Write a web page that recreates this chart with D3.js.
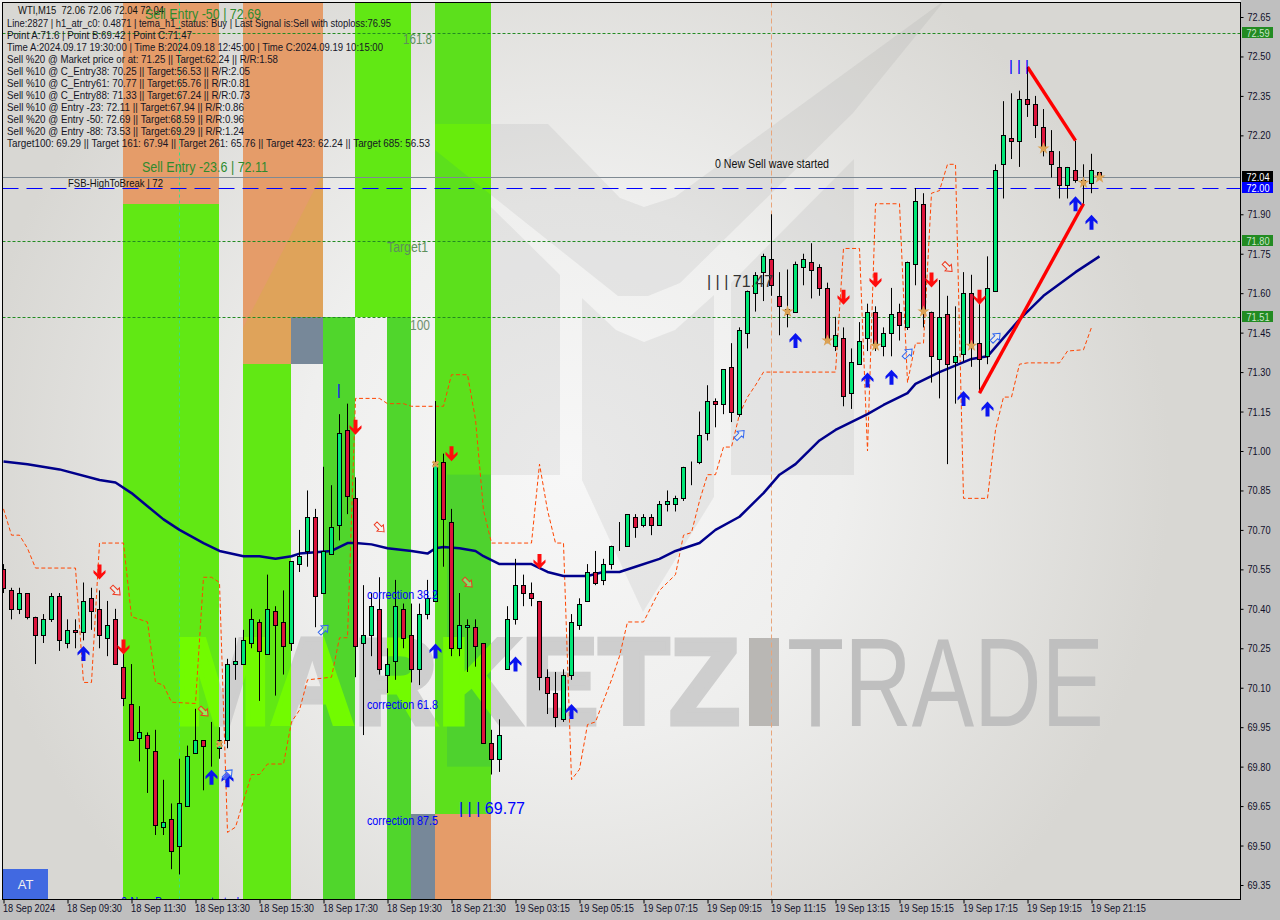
<!DOCTYPE html>
<html><head><meta charset="utf-8">
<style>html,body{margin:0;padding:0;background:#c0c0c0}svg{display:block}text{font-family:"Liberation Sans",Arial,sans-serif}</style>
<script src="https://cdnjs.cloudflare.com/ajax/libs/d3/7.8.5/d3.min.js"></script>
</head><body><div id="c"></div>
<script>
const opens=[70.55,70.47,70.40,70.46,70.37,70.30,70.36,70.45,70.27,70.32,70.31,70.44,70.40,70.29,70.36,70.18,70.04,69.91,69.92,69.86,69.57,69.60,69.50,69.65,69.85,69.90,69.89,69.87,69.90,70.19,70.19,70.27,70.35,70.23,70.39,70.35,70.27,70.57,70.62,70.75,70.46,70.61,70.72,71.08,70.82,70.27,70.30,70.40,70.15,70.20,70.40,70.30,70.17,70.38,70.43,70.96,70.73,70.25,70.33,70.33,70.27,69.89,69.83,70.17,70.36,70.49,70.46,70.43,70.14,70.08,69.98,70.15,70.34,70.43,70.54,70.51,70.57,70.64,70.64,70.75,70.72,70.75,70.72,70.80,70.80,70.82,70.94,70.96,71.07,71.19,71.18,71.32,71.14,71.45,71.60,71.68,71.73,71.59,71.54,71.53,71.70,71.72,71.70,71.62,71.40,71.43,71.22,71.33,71.43,71.53,71.40,71.45,71.53,71.47,71.71,71.94,71.53,71.35,71.52,71.34,71.37,71.60,71.41,71.36,71.61,72.09,72.19,72.18,72.34,72.32,72.23,72.14,72.08,72.01,72.07,72.03,72.02,72.06];
const highs=[70.57,70.48,70.48,70.46,70.37,70.38,70.46,70.46,70.36,70.36,70.50,70.48,70.47,70.43,70.40,70.23,70.19,70.03,69.93,69.94,69.75,69.66,69.83,69.88,70.02,69.90,69.97,69.95,70.21,70.29,70.32,70.40,70.36,70.53,70.41,70.47,70.58,70.70,70.85,70.78,70.94,70.87,71.14,71.18,70.90,70.49,70.46,70.52,70.25,70.51,70.42,70.42,70.42,70.51,71.19,70.99,70.78,70.46,70.36,70.36,70.27,69.94,69.98,70.41,70.59,70.53,70.50,70.43,70.17,70.16,70.17,70.38,70.44,70.57,70.62,70.59,70.64,70.73,70.76,70.76,70.76,70.76,70.81,70.85,70.83,70.94,70.96,71.15,71.25,71.20,71.31,71.41,71.47,71.61,71.68,71.75,71.90,71.68,71.69,71.72,71.75,71.79,71.71,71.64,71.51,71.47,71.39,71.49,71.56,71.55,71.47,71.62,71.56,71.72,72.00,71.98,71.53,71.65,71.59,71.55,71.68,71.67,71.60,71.74,72.09,72.33,72.36,72.37,72.46,72.35,72.30,72.22,72.14,72.08,72.18,72.09,72.13,72.06];
const lows=[70.46,70.36,70.38,70.36,70.19,70.27,70.35,70.24,70.25,70.25,70.28,70.32,70.25,70.22,70.19,70.03,69.90,69.82,69.70,69.54,69.54,69.41,69.39,69.65,69.85,69.71,69.80,69.83,69.87,70.13,70.19,70.25,70.05,70.23,70.07,70.15,70.24,70.54,70.56,70.33,70.46,70.61,70.66,70.76,70.14,69.92,70.22,70.15,70.08,70.13,70.25,70.12,70.11,70.36,70.43,70.56,70.22,70.22,70.16,70.18,69.89,69.77,69.78,70.17,70.34,70.41,70.41,70.09,70.00,69.95,69.97,70.13,70.32,70.43,70.49,70.49,70.55,70.62,70.64,70.67,70.71,70.68,70.72,70.77,70.77,70.81,70.87,70.95,71.04,71.09,71.14,71.11,71.13,71.39,71.53,71.57,71.59,71.44,71.47,71.53,71.63,71.58,71.59,71.41,71.38,71.17,71.16,71.33,71.38,71.38,71.36,71.36,71.42,71.46,71.63,71.47,71.26,71.20,70.95,71.18,71.34,71.32,71.22,71.33,71.61,71.96,72.11,72.08,72.27,72.19,72.12,72.04,71.96,71.96,72.02,71.94,71.98,72.04];
const closes=[70.48,70.40,70.46,70.37,70.30,70.36,70.45,70.28,70.32,70.31,70.43,70.39,70.30,70.34,70.19,70.06,69.90,69.93,69.87,69.58,69.59,69.48,69.66,69.84,69.90,69.88,69.89,69.90,70.19,70.20,70.28,70.36,70.24,70.40,70.34,70.26,70.58,70.60,70.75,70.45,70.62,70.71,71.07,70.83,70.26,70.30,70.41,70.17,70.19,70.41,70.29,70.17,70.38,70.44,70.95,70.74,70.25,70.34,70.34,70.26,69.89,69.83,69.92,70.36,70.49,70.46,70.44,70.14,70.08,69.99,70.15,70.35,70.42,70.54,70.50,70.57,70.64,70.64,70.76,70.71,70.75,70.72,70.80,70.81,70.82,70.94,70.94,71.06,71.19,71.18,71.31,71.15,71.46,71.61,71.67,71.74,71.63,71.55,71.52,71.71,71.73,71.69,71.62,71.42,71.44,71.21,71.34,71.42,71.53,71.41,71.45,71.52,71.48,71.72,71.95,71.53,71.36,71.51,71.33,71.36,71.60,71.40,71.35,71.62,72.07,72.20,72.18,72.34,72.32,72.24,72.15,72.09,72.01,72.08,72.03,72.02,72.07,72.04];

const maIdx=[0,3,7,12,14,16,18,20,22,25,27,30,32,34,36,37,41,43,44,46,48,51,53,54,55,57,59,60,62,63,66,68,70,73,75,77,79,82,84,87,89,92,95,97,99,102,104,108,110,113,114,117,121,123,125,127,130,134,137];
const maVals=[70.96,70.95,70.93,70.89,70.88,70.84,70.79,70.74,70.70,70.65,70.62,70.60,70.60,70.59,70.60,70.61,70.62,70.65,70.65,70.645,70.63,70.62,70.61,70.63,70.635,70.63,70.62,70.60,70.57,70.57,70.57,70.54,70.525,70.525,70.54,70.54,70.56,70.59,70.62,70.65,70.70,70.75,70.84,70.91,70.95,71.04,71.08,71.14,71.175,71.22,71.255,71.30,71.35,71.36,71.43,71.50,71.59,71.68,71.74];

const bandIdx=[0,1,2,3,4,9,10,11,12,15,16,18,19,20,21,24,25,26,27,28,29,30,31,32,33,35,36,37,38,41,42,43,44,47,48,50,51,55,56,58,59,60,61,66,67,68,69,70,71,72,73,74,75,76,77,78,80,81,82,83,84,85,86,87,88,89,90,91,92,93,94,95,104,105,107,108,109,112,113,114,115,116,117,118,119,120,123,124,125,126,127,128,132,133,135,136];
const bandVals=[70.78,70.68,70.68,70.63,70.555,70.555,70.12,70.12,70.65,70.65,70.37,70.35,70.12,70.11,70.045,70.04,70.52,70.52,70.50,69.55,69.57,69.67,69.77,69.77,69.81,69.81,69.97,70.015,70.13,70.14,70.29,70.29,71.20,71.20,71.18,71.18,71.17,71.17,71.29,71.29,71.12,70.775,70.65,70.65,70.95,70.775,70.65,70.65,69.75,69.79,69.96,69.97,70.05,70.13,70.22,70.35,70.35,70.41,70.47,70.50,70.53,70.68,70.69,70.81,70.91,70.91,71.015,71.015,71.14,71.205,71.25,71.30,71.30,71.77,71.77,71.00,71.94,71.94,71.26,71.41,71.41,71.98,71.99,72.09,72.09,70.82,70.82,71.08,71.205,71.205,71.33,71.335,71.335,71.38,71.385,71.47];

const upIdx=[10,26,28,54,64,71,99,108,111,120,123,134,136];
const upVals=[70.23,69.76,69.75,70.24,70.19,70.01,71.42,71.27,71.28,71.20,71.16,71.94,71.87];
const downIdx=[12,15,44,56,67,105,109,116,122];
const downVals=[70.54,70.255,71.09,70.99,70.58,71.585,71.65,71.65,71.585];
const hollowUpIdx=[28,40,92,113,124];
const hollowUpVals=[69.77,70.32,71.06,71.37,71.43];
const hollowDownIdx=[14,25,47,58,118];
const hollowDownVals=[70.47,70.01,70.71,70.50,71.70];
const starIdx=[98,103,109,115,121,130,135,137];
const starVals=[71.53,71.42,71.40,71.53,71.40,72.15,72.02,72.04];
const crossIdx=[27,54];
const crossVals=[69.886,70.95];
const wedgeUpIdx=[122,135], wedgeUpVals=[71.22,71.94];
const wedgeDownIdx=[128,134], wedgeDownVals=[72.46,72.18];

const priceTicks=[72.65,72.50,72.35,72.20,71.90,71.75,71.60,71.45,71.30,71.15,71.00,70.85,70.70,70.55,70.40,70.25,70.10,69.95,69.80,69.65,69.50,69.35];
const timeLabels=["18 Sep 2024","18 Sep 09:30","18 Sep 11:30","18 Sep 13:30","18 Sep 15:30","18 Sep 17:30","18 Sep 19:30","18 Sep 21:30","19 Sep 03:15","19 Sep 05:15","19 Sep 07:15","19 Sep 09:15","19 Sep 11:15","19 Sep 13:15","19 Sep 15:15","19 Sep 17:15","19 Sep 19:15","19 Sep 21:15"];
const levelGreen=[72.59,71.80,71.51];
const levelBlue=72.00, levelLast=72.04;

// zones: [from bar, to bar, upper price, lower price, kind]
const zoneFrom=[15,15,30,36,36,30,40,44,48,54,54,51];
const zoneTo  =[27,27,36,40,40,36,44,51,51,61,61,54];
const zoneHi  =[73,71.94,73,73,71.51,71.33,71.51,73,71.51,73,69.62,69.62];
const zoneLo  =[71.94,69,71.33,71.51,71.33,69,69,71.51,69,69.62,69,69];
const zoneKind=["o","g1","o","o","s","g1","g2","g1","g2","g3","o","s"];

const infoLines=["Line:2827 | h1_atr_c0: 0.4871 | tema_h1_status: Buy | Last Signal is:Sell with stoploss:76.95",
"Point A:71.6 | Point B:69.42 | Point C:71.47",
"Time A:2024.09.17 19:30:00 | Time B:2024.09.18 12:45:00 | Time C:2024.09.19 10:15:00",
"Sell %20 @ Market price or at: 71.25 || Target:62.24 || R/R:1.58",
"Sell %10 @ C_Entry38: 70.25 || Target:56.53 || R/R:2.05",
"Sell %10 @ C_Entry61: 70.77 || Target:65.76 || R/R:0.81",
"Sell %10 @ C_Entry88: 71.33 || Target:67.24 || R/R:0.73",
"Sell %10 @ Entry -23: 72.11 || Target:67.94 || R/R:0.86",
"Sell %20 @ Entry -50: 72.69 || Target:68.59 || R/R:0.96",
"Sell %20 @ Entry -88: 73.53 || Target:69.29 || R/R:1.24",
"Target100: 69.29 || Target 161: 67.94 || Target 261: 65.76 || Target 423: 62.24 || Target 685: 56.53"];
const infoWidths=[384,185,376,271,243,243,243,237,237,237,423];

const W=1280,H=920,L=2.5,T=2.5,R=1240.5,B=899.5;
const x=d3.scaleLinear().domain([0,137]).range([3.5,1099.5]);
const y=d3.scaleLinear().domain([72.65,69.35]).range([17,885]);
const svg=d3.select("#c").append("svg").attr("width",W).attr("height",H);
const defs=svg.append("defs");

const grad=defs.append("radialGradient").attr("id","bg").attr("gradientUnits","userSpaceOnUse").attr("cx",570).attr("cy",470).attr("r",600);
grad.append("stop").attr("offset",0).attr("stop-color","#f7f7f7");
grad.append("stop").attr("offset",.45).attr("stop-color","#efefee");
grad.append("stop").attr("offset",1).attr("stop-color","#d8d7d3");
defs.append("clipPath").attr("id","plot").append("rect").attr("x",L).attr("y",T).attr("width",R-L).attr("height",B-T);

const zones=zoneFrom.map((f,i)=>({f,t:zoneTo[i],hi:zoneHi[i],lo:zoneLo[i],k:zoneKind[i]}));
const zoneColor={o:"#e59c69",s:"#778899",g1:"#61e814",g2:"#50d62c",g3:"#5ce01c"};
const zx=i=>Math.floor(x(i));
const rectOf=s=>s.attr("x",d=>zx(d.f)).attr("width",d=>zx(d.t)-zx(d.f)).attr("y",d=>Math.max(0,Math.round(y(d.hi)))).attr("height",d=>Math.round(y(d.lo))-Math.max(0,Math.round(y(d.hi))));
defs.append("clipPath").attr("id","clipGreen").selectAll("rect").data(zones.filter(d=>d.k[0]=="g")).join("rect").call(rectOf);
defs.append("clipPath").attr("id","clipOrange").selectAll("rect").data(zones.filter(d=>d.k=="o")).join("rect").call(rectOf);

// watermark shapes
const logoPolys=[
"458,124 548,124 620,198 644,207 675,197 945,0 853,113 680,283 648,296 618,296 491,195 435,150 435,124",
"491,207 560,275 560,475 491,475",
"582,298 616,330 644,342 675,330 714,295 714,497 643,612 582,480",
"731,283 854,159 854,475 731,475",
"323,173 323,364 243,364 243,328"];
const wmL=defs.append("g").attr("id","wmLogo");
logoPolys.forEach(p=>wmL.append("polygon").attr("points",p));
const wmT=defs.append("g").attr("id","wmText");
wmT.append("text").attr("x",174).attr("y",724).attr("font-size",122).attr("font-weight",700).attr("textLength",566).attr("lengthAdjust","spacingAndGlyphs").attr("stroke-width",5).attr("stroke-linejoin","miter").text("MARKETZ");

svg.append("rect").attr("width",W).attr("height",H).attr("fill","#bfbfbf");
svg.append("rect").attr("width",R).attr("height",B).attr("fill","#f0f0f0");
const plot=svg.append("g").attr("clip-path","url(#plot)");
plot.append("rect").attr("x",L).attr("y",T).attr("width",R-L).attr("height",B-T).attr("fill","url(#bg)");
plot.append("use").attr("href","#wmLogo").attr("fill","#8a8a8a").attr("fill-opacity",.13);
plot.append("use").attr("href","#wmText").attr("fill","#cecece").attr("stroke","#cecece");
plot.append("rect").attr("x",749).attr("y",638).attr("width",30).attr("height",88).attr("fill","#b9b7b4");
plot.append("text").attr("x",787).attr("y",726).attr("font-size",126).attr("fill","#bfbfbf").attr("textLength",317).attr("lengthAdjust","spacingAndGlyphs").text("TRADE");

plot.selectAll("rect.zone").data(zones).join("rect").attr("class","zone").call(rectOf).attr("fill",d=>zoneColor[d.k]);
plot.append("rect").attr("x",zx(55.5)).attr("width",zx(61)-zx(55.5)).attr("y",y(70.91)).attr("height",y(69.8)-y(70.91)).attr("fill","#4ed22e");
plot.append("use").attr("href","#wmLogo").attr("fill","#67ec0c").attr("clip-path","url(#clipGreen)");
plot.append("use").attr("href","#wmText").attr("fill","#72fb00").attr("stroke","#72fb00").attr("clip-path","url(#clipGreen)");
plot.append("use").attr("href","#wmLogo").attr("fill","#dca655").attr("fill-opacity",.75).attr("clip-path","url(#clipOrange)");

function t(par,px,py,s,size,fill,w,anchor){
  const e=par.append("text").attr("x",px).attr("y",py).attr("font-size",size).attr("fill",fill).attr("xml:space","preserve").style("white-space","pre").text(s);
  if(w){e.attr("textLength",w).attr("lengthAdjust","spacingAndGlyphs");}
  if(anchor)e.attr("text-anchor",anchor);
  return e;
}

// vertical markers
plot.append("line").attr("x1",x(22)).attr("x2",x(22)).attr("y1",T).attr("y2",B).attr("stroke","#34e08a").attr("stroke-dasharray","3,3");
plot.append("line").attr("x1",x(96)).attr("x2",x(96)).attr("y1",T).attr("y2",B).attr("stroke","#e8a57a").attr("stroke-dasharray","5,3");

// levels
levelGreen.forEach(p=>plot.append("line").attr("x1",L).attr("x2",R).attr("y1",Math.round(y(p))+.5).attr("y2",Math.round(y(p))+.5).attr("stroke","#228b22").attr("stroke-dasharray","3,2"));
plot.append("line").attr("x1",L).attr("x2",R).attr("y1",Math.round(y(levelLast))+.5).attr("y2",Math.round(y(levelLast))+.5).attr("stroke","#7f8a93");
plot.append("line").attr("x1",L).attr("x2",R).attr("y1",Math.round(y(levelBlue))+.5).attr("y2",Math.round(y(levelBlue))+.5).attr("stroke","#0000ff").attr("stroke-dasharray","16,8");

// orange channel
const band=d3.line().x(d=>x(d[0])).y(d=>y(d[1]));
plot.append("path").attr("d",band(bandIdx.map((v,i)=>[v,bandVals[i]]))).attr("fill","none").attr("stroke","#ff4500").attr("stroke-width",1).attr("stroke-dasharray","4,2.5");

// MA
plot.append("path").attr("d",band(maIdx.map((v,i)=>[v,maVals[i]]))).attr("fill","none").attr("stroke","#00008b").attr("stroke-width",2.5).attr("stroke-linejoin","round");

// candles
const data=opens.map((o,i)=>({i,o,h:highs[i],l:lows[i],c:closes[i]}));
const cs=plot.append("g").selectAll("g").data(data).join("g");
cs.append("line").attr("x1",d=>x(d.i)).attr("x2",d=>x(d.i)).attr("y1",d=>y(d.h)).attr("y2",d=>y(d.l)).attr("stroke","#000").attr("stroke-width",1);
const yy=v=>Math.round(y(v))+.5;
cs.append("rect").attr("x",d=>x(d.i)-2).attr("width",4)
  .attr("y",d=>yy(Math.max(d.o,d.c))).attr("height",d=>yy(Math.min(d.o,d.c))-yy(Math.max(d.o,d.c)))
  .attr("fill",d=>d.c>=d.o?"#00e676":"#dc143c").attr("stroke","#000").attr("stroke-width",1);

// wedges
[[wedgeUpIdx,wedgeUpVals],[wedgeDownIdx,wedgeDownVals]].forEach(([a,b])=>plot.append("path").attr("d",band(a.map((v,i)=>[v,b[i]]))).attr("stroke","#ff0000").attr("stroke-width",3.4).attr("fill","none"));

// arrows
const upPath="M0,-7.5L6,-1L6,2L2,-1.5L2,7.5L-2,7.5L-2,-1.5L-6,2L-6,-1Z";
const hollow="M0,-6.5L4.5,-1L2,-1L2,5.5L-2,5.5L-2,-1L-4.5,-1Z";
plot.append("g").selectAll("path").data(upIdx).join("path").attr("d",upPath).attr("fill","#0a14f0")
  .attr("transform",(d,i)=>`translate(${x(d)},${y(upVals[i])})`);
plot.append("g").selectAll("path").data(downIdx).join("path").attr("d",upPath).attr("fill","#ff0c0c")
  .attr("transform",(d,i)=>`translate(${x(d)},${y(downVals[i])}) rotate(180)`);
plot.append("g").selectAll("path").data(hollowUpIdx).join("path").attr("d",hollow).attr("fill","rgba(255,255,255,.3)").attr("stroke","#2f66f0")
  .attr("transform",(d,i)=>`translate(${x(d)},${y(hollowUpVals[i])}) rotate(45)`);
plot.append("g").selectAll("path").data(hollowDownIdx).join("path").attr("d",hollow).attr("fill","rgba(255,255,255,.3)").attr("stroke","#ee3a20")
  .attr("transform",(d,i)=>`translate(${x(d)},${y(hollowDownVals[i])}) rotate(135)`);
plot.append("g").selectAll("path").data(starIdx).join("path").attr("d",d3.symbol(d3.symbolStar,46)).attr("fill","#dca254")
  .attr("transform",(d,i)=>`translate(${x(d)},${y(starVals[i])})`);
plot.append("g").selectAll("path").data(crossIdx).join("path").attr("d",d3.symbol(d3.symbolCross,34)).attr("fill","#dca254")
  .attr("transform",(d,i)=>`translate(${x(d)},${y(crossVals[i])}) rotate(45)`);

// labels in plot
const tg=plot.append("g");
t(tg,18,14,"WTI,M15  72.06 72.06 72.04 72.04",11,"#111",146);
infoLines.forEach((s,i)=>t(tg,7,27+12*i,s,11,"#151525",infoWidths[i]));
t(tg,145,19,"Sell Entry -50 | 72.69",14.5,"#2e8b2e",116);
t(tg,142,172,"Sell Entry -23.6 | 72.11",14.5,"#2e8b2e",126);
t(tg,403,44,"161.8",14,"#5c8f5c",29);
t(tg,387,252,"Target1",14,"#5c8f5c",41);
t(tg,410,330,"100",14,"#6f8f6f",20);
t(tg,68,186.5,"FSB-HighToBreak | 72",11,"#111",95);
t(tg,715,168,"0 New Sell wave started",12,"#111",114);
t(tg,707,287,"| | | 71.47",17,"#333",66);
t(tg,459,814,"| | | 69.77",17,"#0000ff",66);
t(tg,1009,71,"| | |",14,"#0000ff",20);
t(tg,337,395,"|",14,"#0000ff");
t(tg,367,599,"correction 38.2",12,"#0000ff",71);
t(tg,367,709,"correction 61.8",12,"#0000ff",71);
t(tg,367,825,"correction 87.5",12,"#0000ff",71);
t(tg,121,906,"0 New Buy wave started",12,"#0000ff",118);
tg.append("rect").attr("x",3).attr("y",869).attr("width",45).attr("height",30).attr("fill","#4169e1");
t(tg,25.5,889,"AT",13,"#f0f0f0",null,"middle");

// frame
svg.append("rect").attr("x",L).attr("y",T).attr("width",R-L).attr("height",B-T).attr("fill","none").attr("stroke","#000");

// axes
const ay=svg.append("g").attr("transform",`translate(${R},0)`).call(d3.axisRight(y).tickValues(priceTicks).tickSize(3).tickPadding(4).tickFormat(d3.format(".2f")));
ay.select(".domain").remove();
ay.selectAll("text").attr("font-size",11).attr("fill","#10102a").attr("textLength",23).attr("lengthAdjust","spacingAndGlyphs").style("font-family",'"Liberation Sans",Arial,sans-serif');
ay.selectAll("line").attr("stroke","#000");
const tickIdx=timeLabels.map((_,i)=>i*8);
const ax=svg.append("g").attr("transform",`translate(0,${B})`).call(d3.axisBottom(x).tickValues(tickIdx).tickSize(4).tickFormat((d,i)=>timeLabels[i]));
ax.select(".domain").remove();
ax.selectAll("line").attr("stroke","#000");
ax.selectAll("text").attr("font-size",11).attr("fill","#10102a").attr("text-anchor","start").attr("x",-1).attr("y",5).attr("textLength",d=>d===0?52:55).attr("lengthAdjust","spacingAndGlyphs").style("font-family",'"Liberation Sans",Arial,sans-serif');

// price tags
const tags=[[72.59,"#228b22","#c9e6c9"],[72.04,"#000000","#ffffff"],[72.00,"#0000ff","#ffffff"],[71.80,"#228b22","#c9e6c9"],[71.51,"#228b22","#c9e6c9"]];
const tagG=svg.append("g");
tags.forEach(([p,bg,fg])=>{
  const c=y(p)-.5;
  tagG.append("rect").attr("x",1242).attr("width",31).attr("y",Math.round(c-5.5)).attr("height",11).attr("fill",bg);
  t(tagG,1246.5,Math.round(c-5.5)+9.5,p.toFixed(2),11,fg,23);
});
</script></body></html>
